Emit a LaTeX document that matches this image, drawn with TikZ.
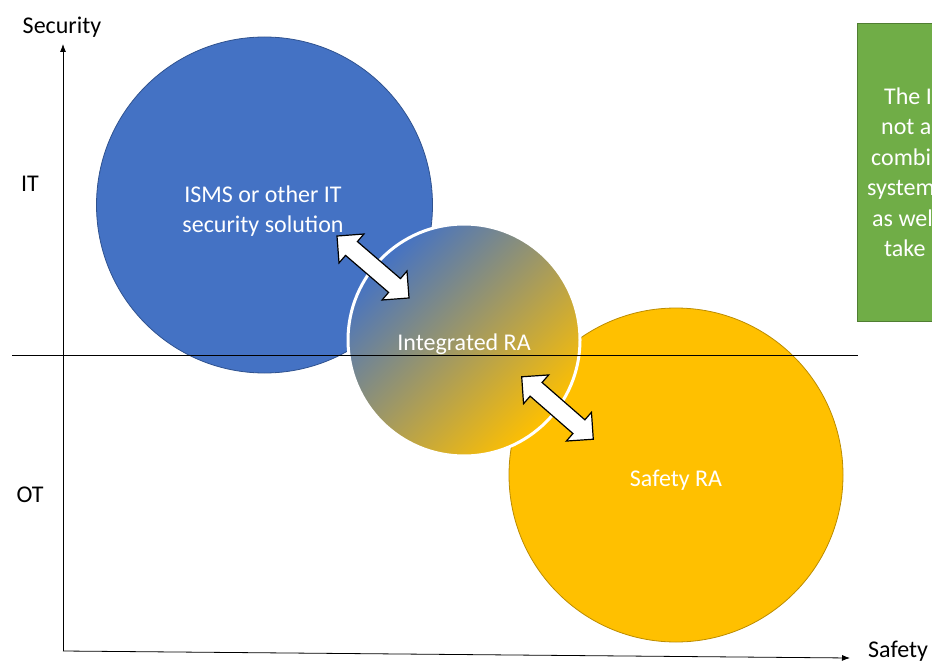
\documentclass[tikz,border=0pt]{standalone}
\usepackage{fontspec}
\setmainfont{Carlito}
\usetikzlibrary{arrows.meta,shapes.arrows}
\definecolor{itblue}{HTML}{4472C4}
\definecolor{itblueline}{HTML}{2F528F}
\definecolor{sgold}{HTML}{FFC000}
\definecolor{sgoldline}{HTML}{BC8C00}
\definecolor{boxgreen}{HTML}{70AD47}
\definecolor{boxgreenline}{HTML}{507E32}
\begin{document}
\begin{tikzpicture}[x=1pt,y=-1pt,
  every node/.style={font=\fontsize{24}{30}\selectfont},
  bigcircle/.style={circle, inner sep=0pt, line width=0.8pt},
  intext/.style={text=white, align=center, anchor=base, inner sep=0pt},
  lbl/.style={text=black, anchor=base, inner sep=0pt},
  notetext/.style={text=white, anchor=base west, inner sep=0pt},
  dblarrow/.style={double arrow, draw=black, fill=white, line width=1.2pt,
    inner sep=0pt, text height=17pt, text depth=0pt, minimum height=95pt,
    double arrow head extend=10pt, double arrow tip angle=90},
  axisline/.style={line width=0.8pt, -{Latex[length=8pt,width=6pt]}}]
\useasboundingbox (0,0) rectangle (932,666);
\clip (0,0) rectangle (932,666);
% circles
\node[bigcircle, fill=itblue, draw=itblueline, minimum size=336pt] (isms) at (264.5,205) {};
\node[bigcircle, fill=sgold, draw=sgoldline, minimum size=334pt] (safety) at (676,475) {};
\node[bigcircle, draw=white, line width=3pt, minimum size=232pt,
  top color=itblue, bottom color=sgold, shading angle=45] (integ) at (464,340) {};
% circle texts
\node[intext] (ismsa) at (263,203) {ISMS or other IT};
\node[intext] (ismsb) at (263,233) {security solution};
\node[intext] (integt) at (464,350) {Integrated RA};
\node[intext] (safetyt) at (676,486) {Safety RA};
% double arrows
\node[dblarrow, rotate=-40.7] (arrA) at (373,267) {};
\node[dblarrow, rotate=-41.1] (arrB) at (557.5,408) {};
% horizontal divider
\coordinate (hl) at (12,355);
\coordinate (hr) at (858,355);
\draw[line width=0.8pt] (hl) -- (hr);
% axes
\coordinate (origin) at (63,651);
\coordinate (ytop) at (63,44);
\coordinate (xend) at (850,658);
\draw[axisline] (origin) -- (ytop);
\draw[axisline] (origin) -- (xend);
% axis labels
\node[lbl] (sec) at (62,34) {Security};
\node[lbl] (it) at (30,191) {IT};
\node[lbl] (ot) at (30,502) {OT};
\node[lbl, anchor=base west] (saf) at (868,657) {Safety};
% note box
\node[draw=boxgreenline, fill=boxgreen, line width=0.8pt, anchor=north west,
  minimum width=200pt, minimum height=298pt, inner sep=0pt] (note) at (857,23) {};
\node[notetext] (n1) at (884,105) {The I};
\node[notetext] (n2) at (881,135) {not a};
\node[notetext] (n3) at (871,165) {combi};
\node[notetext] (n4) at (867,196) {system};
\node[notetext] (n5) at (872,226) {as wel};
\node[notetext] (n6) at (884,256) {take};
\end{tikzpicture}
\end{document}
